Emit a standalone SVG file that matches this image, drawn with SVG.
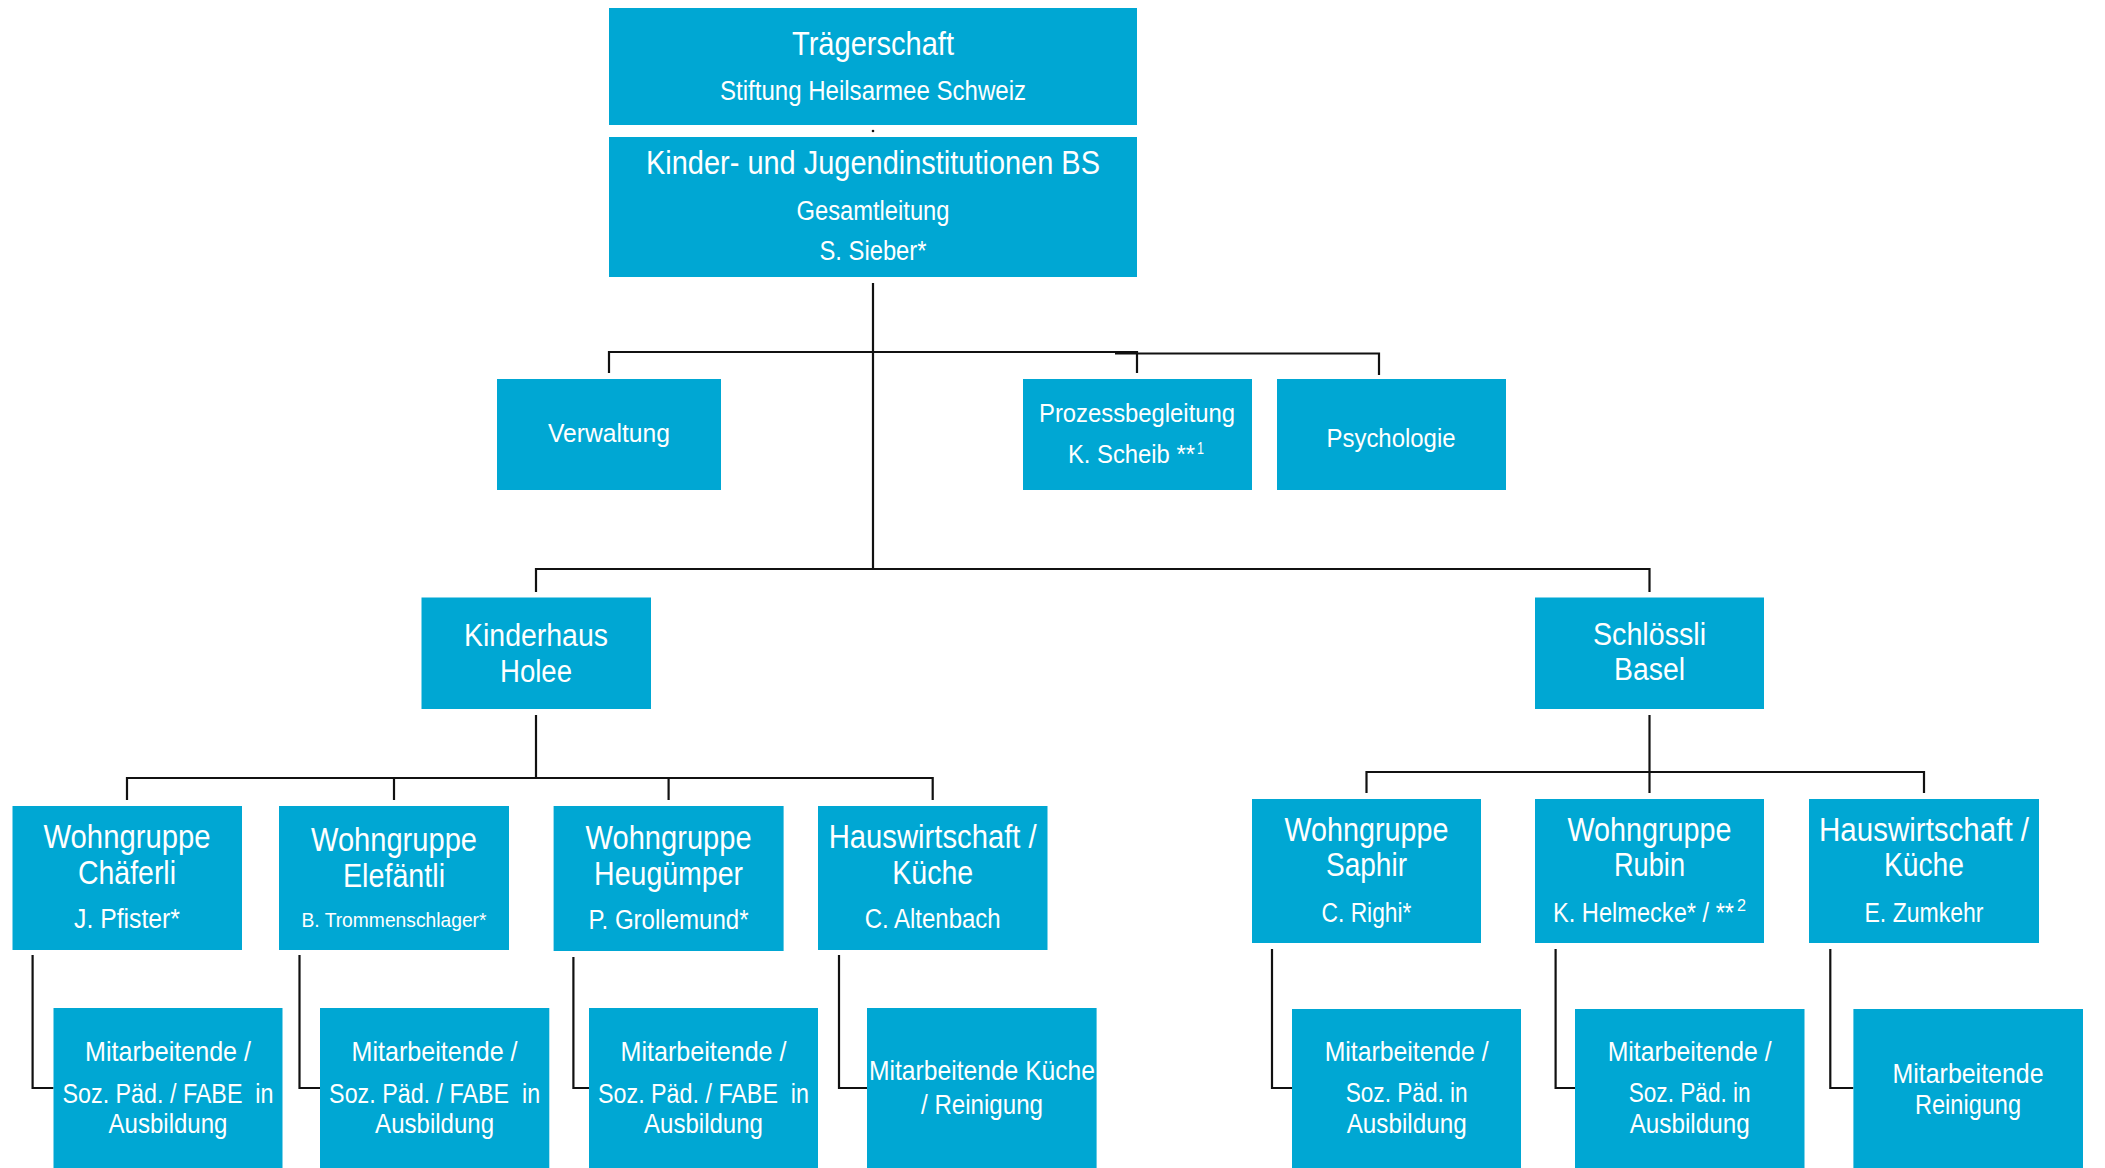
<svg xmlns="http://www.w3.org/2000/svg" width="2105" height="1168" viewBox="0 0 2105 1168">
<style>
.box{fill:#00A7D3}
text{font-family:"Liberation Sans",Arial,sans-serif;fill:#fff;text-anchor:middle}
.st{text-anchor:start}
.t32{font-size:32.5px}
.t31{font-size:31px}
.t28{font-size:28px}
.t27{font-size:27px}
.t26{font-size:25.5px}
.t21{font-size:21px}
.sup{font-size:16px}
.con{fill:none;stroke:#111;stroke-width:2.2}
</style>
<rect width="2105" height="1168" fill="#fff"/>
<g id="connectors">
<circle cx="873" cy="131" r="1.3" fill="#111"/>
<path class="con" d="M873,283 V569"/>
<path class="con" d="M609,373 V352 H1137 V373"/>
<path class="con" d="M1115,353.5 H1379 V375"/>
<path class="con" d="M536,592 V569 H1649.5 V592"/>
<path class="con" d="M536,715 V778"/>
<path class="con" d="M127,800 V778 H932.7 V800"/>
<path class="con" d="M394,778 V800"/>
<path class="con" d="M668.6,778 V800"/>
<path class="con" d="M1649.5,715 V772"/>
<path class="con" d="M1366.5,793 V772 H1924 V793"/>
<path class="con" d="M1649.5,772 V793"/>
<path class="con" d="M32.6,955 V1088 H53.5"/>
<path class="con" d="M299.5,955 V1088 H320"/>
<path class="con" d="M573.4,957 V1088 H589"/>
<path class="con" d="M839,955 V1088 H867"/>
<path class="con" d="M1272,949 V1088 H1292"/>
<path class="con" d="M1555.6,949 V1088 H1575"/>
<path class="con" d="M1830.3,949 V1088 H1853.4"/>
</g>
<g id="traegerschaft">
<rect class="box" x="609" y="8" width="528" height="117"/>
<text class="t32" x="873" y="55" textLength="162" lengthAdjust="spacingAndGlyphs">Trägerschaft</text>
<text class="t27" x="873" y="100" textLength="306" lengthAdjust="spacingAndGlyphs">Stiftung Heilsarmee Schweiz</text>
</g>
<g id="gesamtleitung">
<rect class="box" x="609" y="137" width="528" height="140"/>
<text class="t32" x="873" y="174" textLength="454" lengthAdjust="spacingAndGlyphs">Kinder- und Jugendinstitutionen BS</text>
<text class="t27" x="873" y="220" textLength="153" lengthAdjust="spacingAndGlyphs">Gesamtleitung</text>
<text class="t27" x="873" y="260" textLength="107" lengthAdjust="spacingAndGlyphs">S. Sieber*</text>
</g>
<g id="verwaltung">
<rect class="box" x="497" y="379" width="224" height="111"/>
<text class="t26" x="609" y="442" textLength="122" lengthAdjust="spacingAndGlyphs">Verwaltung</text>
</g>
<g id="prozessbegleitung">
<rect class="box" x="1023" y="379" width="229" height="111"/>
<text class="t26" x="1137" y="422" textLength="196" lengthAdjust="spacingAndGlyphs">Prozessbegleitung</text>
<text class="t26 st" x="1068" y="463" textLength="127" lengthAdjust="spacingAndGlyphs">K. Scheib **</text>
<text class="sup st" x="1197" y="454" textLength="7" lengthAdjust="spacingAndGlyphs">1</text>
</g>
<g id="psychologie">
<rect class="box" x="1277" y="379" width="229" height="111"/>
<text class="t26" x="1391" y="447" textLength="129" lengthAdjust="spacingAndGlyphs">Psychologie</text>
</g>
<g id="kinderhaus">
<rect class="box" x="421.5" y="597.5" width="229.5" height="111.5"/>
<text class="t31" x="536" y="646" textLength="144" lengthAdjust="spacingAndGlyphs">Kinderhaus</text>
<text class="t31" x="536" y="682" textLength="72" lengthAdjust="spacingAndGlyphs">Holee</text>
</g>
<g id="schloessli">
<rect class="box" x="1535" y="597.5" width="229" height="111.5"/>
<text class="t31" x="1649.5" y="645" textLength="113" lengthAdjust="spacingAndGlyphs">Schlössli</text>
<text class="t31" x="1649.5" y="680" textLength="71" lengthAdjust="spacingAndGlyphs">Basel</text>
</g>
<g id="wg-chaeferli">
<rect class="box" x="12.5" y="806" width="229.5" height="144"/>
<text class="t32" x="127" y="848" textLength="167" lengthAdjust="spacingAndGlyphs">Wohngruppe</text>
<text class="t32" x="127" y="884" textLength="98" lengthAdjust="spacingAndGlyphs">Chäferli</text>
<text class="t27" x="127" y="928" textLength="106" lengthAdjust="spacingAndGlyphs">J. Pfister*</text>
</g>
<g id="wg-elefaentli">
<rect class="box" x="279" y="806" width="230" height="144"/>
<text class="t32" x="394" y="851" textLength="166" lengthAdjust="spacingAndGlyphs">Wohngruppe</text>
<text class="t32" x="394" y="887" textLength="102" lengthAdjust="spacingAndGlyphs">Elefäntli</text>
<text class="t21" x="394" y="927" textLength="185" lengthAdjust="spacingAndGlyphs">B. Trommenschlager*</text>
</g>
<g id="wg-heuguemper">
<rect class="box" x="553.6" y="806" width="230" height="145"/>
<text class="t32" x="668.6" y="849" textLength="166" lengthAdjust="spacingAndGlyphs">Wohngruppe</text>
<text class="t32" x="668.6" y="885" textLength="149" lengthAdjust="spacingAndGlyphs">Heugümper</text>
<text class="t27" x="668.6" y="929" textLength="160" lengthAdjust="spacingAndGlyphs">P. Grollemund*</text>
</g>
<g id="hw-holee">
<rect class="box" x="818" y="806" width="229.5" height="144"/>
<text class="t32" x="932.7" y="848" textLength="208" lengthAdjust="spacingAndGlyphs">Hauswirtschaft /</text>
<text class="t32" x="932.7" y="884" textLength="81" lengthAdjust="spacingAndGlyphs">Küche</text>
<text class="t27" x="932.7" y="928" textLength="136" lengthAdjust="spacingAndGlyphs">C. Altenbach</text>
</g>
<g id="wg-saphir">
<rect class="box" x="1252" y="799" width="229" height="144"/>
<text class="t32" x="1366.5" y="841" textLength="164" lengthAdjust="spacingAndGlyphs">Wohngruppe</text>
<text class="t32" x="1366.5" y="876" textLength="81" lengthAdjust="spacingAndGlyphs">Saphir</text>
<text class="t27" x="1366.5" y="922" textLength="90" lengthAdjust="spacingAndGlyphs">C. Righi*</text>
</g>
<g id="wg-rubin">
<rect class="box" x="1535" y="799" width="229" height="144"/>
<text class="t32" x="1649.5" y="841" textLength="164" lengthAdjust="spacingAndGlyphs">Wohngruppe</text>
<text class="t32" x="1649.5" y="876" textLength="71" lengthAdjust="spacingAndGlyphs">Rubin</text>
<text class="t27 st" x="1553" y="922" textLength="181" lengthAdjust="spacingAndGlyphs">K. Helmecke* / **</text>
<text class="sup st" x="1737" y="911" textLength="9" lengthAdjust="spacingAndGlyphs">2</text>
</g>
<g id="hw-schloessli">
<rect class="box" x="1809" y="799" width="230" height="144"/>
<text class="t32" x="1924" y="841" textLength="210" lengthAdjust="spacingAndGlyphs">Hauswirtschaft /</text>
<text class="t32" x="1924" y="876" textLength="80" lengthAdjust="spacingAndGlyphs">Küche</text>
<text class="t27" x="1924" y="922" textLength="119" lengthAdjust="spacingAndGlyphs">E. Zumkehr</text>
</g>
<g id="ma-chaeferli">
<rect class="box" x="53.5" y="1008" width="229" height="165"/>
<text class="t28" x="168" y="1061" textLength="166" lengthAdjust="spacingAndGlyphs">Mitarbeitende /</text>
<text class="t28" x="168" y="1103" textLength="211" lengthAdjust="spacingAndGlyphs" xml:space="preserve">Soz. Päd. / FABE  in</text>
<text class="t28" x="168" y="1133" textLength="119" lengthAdjust="spacingAndGlyphs">Ausbildung</text>
</g>
<g id="ma-elefaentli">
<rect class="box" x="320" y="1008" width="229.3" height="165"/>
<text class="t28" x="434.6" y="1061" textLength="166" lengthAdjust="spacingAndGlyphs">Mitarbeitende /</text>
<text class="t28" x="434.6" y="1103" textLength="211" lengthAdjust="spacingAndGlyphs" xml:space="preserve">Soz. Päd. / FABE  in</text>
<text class="t28" x="434.6" y="1133" textLength="119" lengthAdjust="spacingAndGlyphs">Ausbildung</text>
</g>
<g id="ma-heuguemper">
<rect class="box" x="589" y="1008" width="229" height="165"/>
<text class="t28" x="703.5" y="1061" textLength="166" lengthAdjust="spacingAndGlyphs">Mitarbeitende /</text>
<text class="t28" x="703.5" y="1103" textLength="211" lengthAdjust="spacingAndGlyphs" xml:space="preserve">Soz. Päd. / FABE  in</text>
<text class="t28" x="703.5" y="1133" textLength="119" lengthAdjust="spacingAndGlyphs">Ausbildung</text>
</g>
<g id="ma-kueche-holee">
<rect class="box" x="867" y="1008" width="229.6" height="165"/>
<text class="t28" x="982" y="1080" textLength="226" lengthAdjust="spacingAndGlyphs">Mitarbeitende Küche</text>
<text class="t28" x="982" y="1114" textLength="122" lengthAdjust="spacingAndGlyphs">/ Reinigung</text>
</g>
<g id="ma-saphir">
<rect class="box" x="1292" y="1009" width="229" height="165"/>
<text class="t28" x="1406.7" y="1061" textLength="164" lengthAdjust="spacingAndGlyphs">Mitarbeitende /</text>
<text class="t28" x="1406.7" y="1102" textLength="122" lengthAdjust="spacingAndGlyphs">Soz. Päd. in</text>
<text class="t28" x="1406.7" y="1133" textLength="120" lengthAdjust="spacingAndGlyphs">Ausbildung</text>
</g>
<g id="ma-rubin">
<rect class="box" x="1575" y="1009" width="229.5" height="165"/>
<text class="t28" x="1689.7" y="1061" textLength="164" lengthAdjust="spacingAndGlyphs">Mitarbeitende /</text>
<text class="t28" x="1689.7" y="1102" textLength="122" lengthAdjust="spacingAndGlyphs">Soz. Päd. in</text>
<text class="t28" x="1689.7" y="1133" textLength="120" lengthAdjust="spacingAndGlyphs">Ausbildung</text>
</g>
<g id="ma-reinigung-schloessli">
<rect class="box" x="1853.4" y="1009" width="229.6" height="165"/>
<text class="t28" x="1968" y="1083" textLength="151" lengthAdjust="spacingAndGlyphs">Mitarbeitende</text>
<text class="t28" x="1968" y="1114" textLength="106" lengthAdjust="spacingAndGlyphs">Reinigung</text>
</g>
</svg>
